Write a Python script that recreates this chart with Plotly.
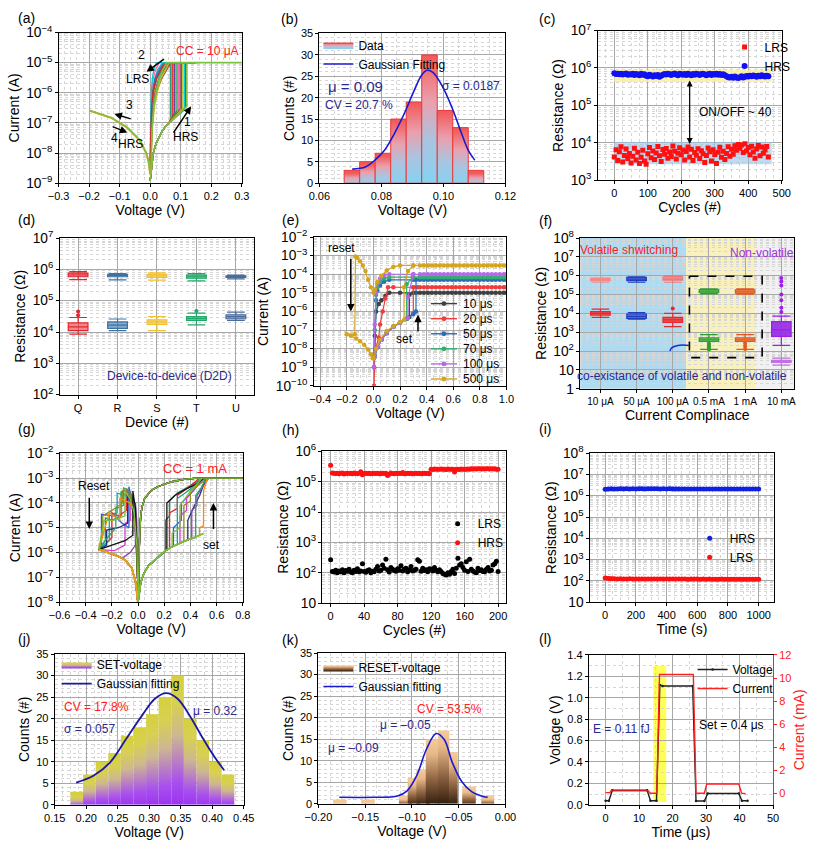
import math
import plotly.graph_objects as go

W, H = 817, 846
FONT = "Arial, 'Liberation Sans', Helvetica, sans-serif"
NAVY = '#2a2a8c'
RED = '#ff2020'

# ======================= DATA =======================
# (a) I-V cycles, CC = 10 uA
A_HRS_V = [0.0, 0.005, 0.01, 0.02, 0.03, 0.04, 0.05, 0.06]
A_HRS_I = [1.2e-9, 4e-9, 1e-8, 2.2e-8, 3.6e-8, 5.5e-8, 7.5e-8, 9.5e-8]
A_VSET = [0.066, 0.070, 0.074, 0.079, 0.084, 0.088, 0.093, 0.098, 0.103, 0.107, 0.112, 0.116]
A_IPRE = [1.3e-7, 1.7e-7, 1.5e-7, 2.1e-7, 1.8e-7, 2.6e-7, 2.2e-7, 2.9e-7, 2.5e-7, 3.1e-7, 2.7e-7, 3.4e-7]
A_VMAX = [0.14, 0.13, 0.15, 0.14, 0.13, 0.15, 0.14, 0.16, 0.14, 0.15, 0.13, 0.15]
A_CC = 1e-5
A_RET_I = [1e-5, 6e-6, 3e-6, 1.2e-6, 4e-7, 6e-8, 3e-9]
A_RET_V = [
    [0.060, 0.040, 0.022, 0.012, 0.007, 0.003, 0.001],
    [0.070, 0.048, 0.030, 0.015, 0.008, 0.004, 0.001],
    [0.050, 0.034, 0.020, 0.010, 0.006, 0.003, 0.000],
    [0.065, 0.045, 0.028, 0.018, 0.010, 0.005, 0.002],
    [0.040, 0.025, 0.015, 0.008, 0.005, 0.002, 0.000],
    [0.055, 0.042, 0.030, 0.020, 0.012, 0.006, 0.002],
    [0.030, 0.018, 0.010, 0.006, 0.004, 0.002, 0.000],
    [0.068, 0.055, 0.038, 0.022, 0.011, 0.005, 0.001],
    [0.045, 0.030, 0.016, 0.009, 0.005, 0.002, 0.001],
    [0.062, 0.050, 0.035, 0.025, 0.015, 0.006, 0.002],
    [0.020, 0.012, 0.007, 0.004, 0.002, 0.001, 0.000],
    [0.058, 0.036, 0.020, 0.010, 0.005, 0.002, 0.000],
]
A_COLORS = ['#1f9e89', '#ff7f0e', '#e31a1c', '#6a3d9a', '#17becf', '#2ca02c',
            '#ff69b4', '#8c564b', '#1f77b4', '#bcbd22', '#00ced1', '#d62728']
A_LONG_VSET, A_LONG_IPRE, A_LONG_VMAX = 0.12, 3.6e-7, 0.3
A_NEG_V = [0.0, -0.005, -0.012, -0.033, -0.075, -0.128, -0.2]
A_NEG_I = [2e-9, 5e-9, 9.5e-9, 2.6e-8, 7e-8, 1.5e-7, 2.6e-7]

# (b) set-voltage histogram
B_CENTERS = [0.0705, 0.0755, 0.0805, 0.0855, 0.0905, 0.0955, 0.1005, 0.1055, 0.1105]
B_COUNTS = [3, 5, 7, 15, 19, 30, 17, 13, 3]
B_WIDTH = 0.005
B_FIT_X = [0.0706, 0.0748, 0.0779, 0.0810, 0.0841, 0.0872, 0.0904, 0.0930, 0.0947,
           0.0966, 0.0997, 0.1028, 0.1059, 0.1080, 0.1101]
B_FIT_Y = [3.3, 3.8, 5.4, 7.7, 11.5, 16.0, 21.4, 25.3, 26.4, 25.9, 22.6, 17.6, 11.5, 7.7, 5.4]

# (c) endurance, resistance in kOhm
C_CYCLE = list(range(0, 465, 5))
C_LRS = [4.2, 6.5, 3.4, 5.8, 7.9, 3.1, 4.6, 6.9, 3.8, 5.2,
         2.9, 4.4, 7.2, 3.5, 5.6, 2.8, 4.1, 6.3, 3.3, 2.7,
         5.1, 7.5, 4.0, 6.1, 3.6, 5.4, 8.0, 4.5, 3.2, 6.6,
         5.0, 7.1, 3.9, 5.7, 4.3, 8.2, 6.0, 3.7, 5.3, 7.4,
         4.8, 6.4, 3.5, 5.9, 7.7, 4.2, 6.8, 3.4, 5.5, 4.7,
         7.0, 3.8, 6.2, 5.1, 3.0, 4.6, 7.3, 5.8, 3.3, 6.5,
         4.9, 2.8, 5.6, 7.6, 4.1, 6.0, 3.6, 5.2, 7.9, 4.4,
         6.7, 5.0, 8.4, 6.3, 9.0, 7.2, 8.8, 5.5, 9.4, 6.1,
         7.5, 4.8, 8.1, 5.7, 3.9, 6.9, 8.5, 4.5, 7.8, 5.3,
         6.4, 8.0, 4.2]
C_HRS = [720, 690, 705, 680, 700, 670, 695, 710, 660, 685,
         675, 700, 650, 690, 665, 640, 700, 655, 680, 620,
         600, 660, 630, 590, 640, 610, 650, 580, 620, 660,
         690, 670, 700, 680, 650, 690, 710, 670, 640, 700,
         680, 660, 690, 650, 700, 670, 640, 690, 660, 700,
         680, 650, 690, 700, 670, 640, 680, 700, 650, 690,
         670, 700, 660, 690, 650, 680, 640, 600, 570, 560,
         580, 550, 590, 560, 540, 570, 600, 560, 580, 610,
         590, 620, 600, 630, 610, 580, 620, 600, 640, 610,
         590, 620, 600]

# (d) device-to-device boxes
D_DEVICES = ['Q', 'R', 'S', 'T', 'U']
D_COLORS = ['#e3262d', '#3a73a8', '#f2c12e', '#20a868', '#4a6b9c']
D_FILLS = ['rgba(227,38,45,0.55)', 'rgba(58,115,168,0.6)', 'rgba(242,193,46,0.6)',
           'rgba(32,168,104,0.6)', 'rgba(74,107,156,0.6)']
D_HRS_Q1 = [5.8e5, 5.8e5, 5.5e5, 5.2e5, 5.5e5]
D_HRS_MED = [6.6e5, 6.4e5, 6.2e5, 5.8e5, 5.9e5]
D_HRS_Q3 = [7.6e5, 6.9e5, 6.9e5, 6.5e5, 6.2e5]
D_HRS_LO = [4.7e5, 4.6e5, 4.5e5, 4.3e5, 5.0e5]
D_HRS_HI = [8.5e5, 7.3e5, 7.7e5, 7.3e5, 6.6e5]
D_LRS_Q1 = [1.1e4, 1.3e4, 1.75e4, 2.35e4, 2.65e4]
D_LRS_MED = [1.45e4, 1.65e4, 2.1e4, 2.7e4, 3.1e4]
D_LRS_Q3 = [1.95e4, 2.1e4, 2.45e4, 3.1e4, 3.55e4]
D_LRS_LO = [8.5e3, 1.1e4, 1.1e4, 1.7e4, 2.35e4]
D_LRS_HI = [2.9e4, 2.6e4, 3.1e4, 4.0e4, 4.3e4]
D_OUT_X = [0, 0, 3]
D_OUT_Y = [4.5e4, 3.4e4, 4.7e4]

# (e) pulse-width I-V
E_NAMES = ['10 μs', '20 μs', '50 μs', '70 μs', '100 μs', '500 μs']
E_COLORS = ['#404040', '#f03c3c', '#2a6db5', '#2cb06c', '#b46ae6', '#d4a41c']
E_CC = [1e-5, 2e-5, 5e-5, 7e-5, 1e-4, 3e-4]
E_FWD_V = [
    [0.01, 0.03, 0.06, 0.1, 0.15, 0.2, 0.25, 0.27, 0.27, 0.32],
    [0.01, 0.03, 0.06, 0.1, 0.15, 0.2, 0.25, 0.3, 0.3, 0.33],
    [0.01, 0.03, 0.06, 0.1, 0.15, 0.2, 0.25, 0.3, 0.32, 0.32],
    [0.01, 0.03, 0.06, 0.1, 0.15, 0.2, 0.25, 0.25, 0.3],
    [0.01, 0.03, 0.06, 0.1, 0.15, 0.2, 0.26, 0.26, 0.3],
    [0.0, 0.02, 0.05, 0.1, 0.15, 0.2, 0.23, 0.23, 0.26, 0.3],
]
E_FWD_I = [
    [4e-9, 1.2e-8, 3e-8, 7e-8, 1.5e-7, 2.5e-7, 4e-7, 5e-7, 8e-6, 1e-5],
    [4e-9, 1.2e-8, 3e-8, 7e-8, 1.5e-7, 2.5e-7, 4e-7, 8e-7, 2e-5, 2e-5],
    [4e-9, 1.2e-8, 3e-8, 7e-8, 1.5e-7, 2.5e-7, 4e-7, 7e-7, 1e-6, 5e-5],
    [4e-9, 1.2e-8, 3e-8, 7e-8, 1.5e-7, 2.5e-7, 4e-7, 3e-5, 7e-5],
    [4e-9, 1.2e-8, 3e-8, 7e-8, 1.5e-7, 2.5e-7, 4.5e-7, 6e-6, 1e-4],
    [3e-9, 1e-8, 3e-8, 9e-8, 1.6e-7, 2.6e-7, 3.5e-7, 2e-5, 1.5e-4, 3e-4],
]
E_FLAT_V = [0.35, 0.38, 0.41, 0.44, 0.47, 0.50, 0.53, 0.56, 0.59, 0.62, 0.65, 0.68,
            0.71, 0.74, 0.77, 0.80, 0.83, 0.86, 0.89, 0.92, 0.95, 0.98, 1.0]
E_RET_V = [
    [0.3, 0.2, 0.12, 0.09, 0.06, 0.04, 0.02, 0.01, 0.005],
    [0.3, 0.15, 0.11, 0.09, 0.07, 0.05, 0.04, 0.02, 0.01, 0.005],
    [0.3, 0.12, 0.08, 0.05, 0.03, 0.02, 0.012, 0.006],
    [0.3, 0.12, 0.08, 0.05, 0.03, 0.02, 0.01, 0.004],
    [0.3, 0.12, 0.08, 0.05, 0.03, 0.02, 0.01, 0.003],
    [0.3, 0.2, 0.15, 0.1, 0.06, 0.03, 0.01, 0.0, -0.02, -0.04, -0.06, -0.08, -0.1, -0.12,
     -0.135, -0.14, -0.2, -0.17, -0.13, -0.1, -0.07, -0.04, -0.02, -0.005],
]
E_RET_I = [
    [1e-5, 1e-5, 1e-5, 7e-6, 4e-6, 2.5e-6, 1e-6, 5e-8, 1e-9],
    [2e-5, 2e-5, 2e-5, 5e-6, 1e-6, 2e-7, 4e-8, 1.2e-8, 4e-9, 1e-10],
    [5e-5, 5e-5, 4e-5, 2.5e-5, 1.3e-5, 4e-6, 1e-8, 5e-9],
    [7e-5, 7e-5, 6e-5, 4e-5, 2e-5, 8e-6, 1e-7, 3e-9],
    [1e-4, 1e-4, 9e-5, 6e-5, 3e-5, 1e-5, 2e-7, 1e-9],
    [3e-4, 3e-4, 2.5e-4, 1.6e-4, 8e-5, 4e-5, 1.5e-5, 1e-5, 2e-5, 5e-5, 1.5e-4, 3e-4, 5e-4,
     7.5e-4, 9e-4, 6e-8, 6e-8, 5e-8, 3.5e-8, 2.5e-8, 1.6e-8, 9e-9, 5e-9, 3e-9],
]

# (f) current-compliance boxes
F_CC = ['10 μA', '50 μA', '100 μA', '0.5 mA', '1 mA', '10 mA']
F_HRS_COL = ['#f08a8a', '#1f3fbf', '#f07a7a', '#2ca02c', '#e2581e']
F_HRS_FILL = ['rgba(250,200,200,0.9)', 'rgba(60,90,210,0.75)', 'rgba(245,150,150,0.85)',
              'rgba(90,185,90,0.8)', 'rgba(235,120,60,0.8)']
F_HRS_Q1 = [5.5e5, 5.5e5, 5.9e5, 1.25e5, 1.2e5]
F_HRS_MED = [6.2e5, 6.6e5, 6.8e5, 1.5e5, 1.5e5]
F_HRS_Q3 = [7.2e5, 8.1e5, 8.6e5, 1.85e5, 1.8e5]
F_HRS_LO = [4.5e5, 4.5e5, 4.5e5, 1.1e5, 1.05e5]
F_HRS_HI = [7.5e5, 8.6e5, 9.7e5, 2.0e5, 2.0e5]
F_LRS_COL = ['#e8262b', '#1f3fbf', '#e8262b', '#2ca02c', '#e2581e', '#9b1fe8']
F_LRS_FILL = ['rgba(240,70,70,0.85)', 'rgba(60,90,210,0.75)', 'rgba(240,60,60,0.85)',
              'rgba(90,185,90,0.8)', 'rgba(235,120,60,0.8)', 'rgba(150,40,230,0.9)']
F_LRS_Q1 = [8.2e3, 5.5e3, 3.3e3, 330, 330, 600]
F_LRS_MED = [1.0e4, 7.0e3, 4.5e3, 400, 400, 1350]
F_LRS_Q3 = [1.23e4, 9.3e3, 6.2e3, 500, 500, 3700]
F_LRS_LO = [6.2e3, 5.0e3, 2.0e3, 124, 124, 200]
F_LRS_HI = [1.7e4, 1.1e4, 1.0e4, 740, 740, 7200]
F_SMALL = dict(q1=25, med=28, q3=32, lo=18, hi=42)
F_OUT_X = [2, 3, 3, 3, 3, 4, 4, 4, 5, 5, 5, 5, 5, 5, 5]
F_OUT_Y = [1.8e4, 250, 200, 160, 120, 250, 180, 130, 1.2e4, 2e4, 5e4, 1e5, 3e5, 5e5, 7.5e5]
F_OUT_C = ['#e8262b', '#2ca02c', '#2ca02c', '#2ca02c', '#2ca02c', '#e2581e', '#e2581e',
           '#e2581e', '#9b1fe8', '#9b1fe8', '#9b1fe8', '#9b1fe8', '#9b1fe8', '#9b1fe8', '#9b1fe8']

# (g) I-V cycles, CC = 1 mA
G_HRS_V = [0.0, 0.01, 0.02, 0.04, 0.08, 0.12, 0.16, 0.2, 0.25, 0.3, 0.35, 0.4, 0.45, 0.5]
G_HRS_I = [1e-8, 3e-8, 6e-8, 1.3e-7, 3e-7, 4.5e-7, 7e-7, 1.1e-6, 1.6e-6, 2.2e-6, 2.8e-6,
           3.6e-6, 4.6e-6, 5.8e-6]
G_SET_V = [
    [0.21, 0.21, 0.24, 0.24, 0.3, 0.4, 0.5],
    [0.24, 0.24, 0.3, 0.3, 0.38, 0.47],
    [0.27, 0.27, 0.33, 0.33, 0.42, 0.5],
    [0.3, 0.3, 0.36, 0.45, 0.52],
    [0.32, 0.32, 0.37, 0.37, 0.44, 0.5],
    [0.35, 0.35, 0.4, 0.4, 0.48, 0.53],
    [0.38, 0.38, 0.42, 0.47, 0.52],
    [0.41, 0.41, 0.45, 0.45, 0.5, 0.54],
    [0.44, 0.44, 0.48, 0.52],
    [0.47, 0.47, 0.5, 0.5, 0.53],
    [0.22, 0.22, 0.28, 0.36, 0.45, 0.5],
    [0.26, 0.26, 0.32, 0.32, 0.4, 0.49],
]
G_SET_I = [
    [1.2e-6, 2e-5, 3e-5, 1.2e-4, 2.5e-4, 5e-4, 1e-3],
    [1.5e-6, 4e-5, 6e-5, 2e-4, 4e-4, 1e-3],
    [1.9e-6, 1e-5, 2e-5, 1e-4, 3e-4, 1e-3],
    [2.2e-6, 1.5e-4, 2.5e-4, 6e-4, 1e-3],
    [2.4e-6, 3e-5, 5e-5, 1.5e-4, 4e-4, 1e-3],
    [2.8e-6, 8e-5, 1.2e-4, 3e-4, 6e-4, 1e-3],
    [3.1e-6, 2e-5, 6e-5, 2e-4, 1e-3],
    [3.5e-6, 5e-5, 8e-5, 2e-4, 5e-4, 1e-3],
    [4e-6, 2e-4, 4e-4, 1e-3],
    [4.8e-6, 1e-5, 1.2e-5, 3e-4, 1e-3],
    [1.3e-6, 1e-4, 2e-4, 3.5e-4, 6e-4, 1e-3],
    [1.7e-6, 6e-6, 1e-5, 8e-5, 3e-4, 1e-3],
]
G_VMAX = 0.8
G_RET_V = [0.8, 0.45, 0.35, 0.25, 0.15, 0.1, 0.05, 0.03, 0.02, 0.012, 0.006, 0.002]
G_RET_I = [1e-3, 1e-3, 9e-4, 7e-4, 4.5e-4, 3.2e-4, 1.5e-4, 7e-5, 3e-5, 5e-6, 3e-7, 1e-8]
G_NEG_V = [
    [-0.004, -0.01, -0.03, -0.06, -0.1, -0.13, -0.13, -0.2, -0.25, -0.25, -0.3],
    [-0.004, -0.01, -0.03, -0.06, -0.09, -0.09, -0.15, -0.2, -0.2, -0.3],
    [-0.004, -0.012, -0.03, -0.05, -0.07, -0.07, -0.12, -0.18, -0.28, -0.28],
    [-0.004, -0.01, -0.03, -0.06, -0.1, -0.16, -0.16, -0.22, -0.22, -0.3],
    [-0.004, -0.01, -0.02, -0.04, -0.06, -0.06, -0.1, -0.1, -0.18, -0.3],
    [-0.004, -0.01, -0.03, -0.06, -0.09, -0.12, -0.12, -0.2, -0.27, -0.27, -0.3],
    [-0.004, -0.012, -0.025, -0.05, -0.08, -0.08, -0.15, -0.24, -0.24, -0.3],
    [-0.004, -0.01, -0.02, -0.02, -0.06, -0.12, -0.3],
    [-0.004, -0.01, -0.03, -0.05, -0.08, -0.11, -0.11, -0.17, -0.17, -0.3],
    [-0.004, -0.01, -0.03, -0.06, -0.14, -0.14, -0.22, -0.3],
    [-0.004, -0.01, -0.02, -0.04, -0.04, -0.1, -0.2, -0.3],
    [-0.004, -0.01, -0.03, -0.06, -0.1, -0.1, -0.19, -0.26, -0.3],
]
G_NEG_I = [
    [1e-7, 2e-6, 3e-5, 1.2e-4, 2.2e-4, 2.8e-4, 3e-5, 2e-5, 2.5e-5, 3e-6, 1.4e-6],
    [1e-7, 3e-6, 5e-5, 2e-4, 3.5e-4, 5e-5, 3e-5, 4e-5, 4e-6, 1.3e-6],
    [1e-7, 2e-6, 4e-5, 1.5e-4, 4.5e-4, 1e-5, 1.5e-5, 3e-5, 3.5e-5, 1.3e-6],
    [1e-7, 2e-6, 3e-5, 1.3e-4, 2e-4, 2.5e-4, 4e-5, 3e-5, 3e-6, 1.4e-6],
    [1e-7, 5e-6, 4e-5, 1.5e-4, 3e-4, 2e-5, 1.5e-5, 2e-6, 1.2e-6, 1.3e-6],
    [1e-7, 2e-6, 5e-5, 1.8e-4, 3e-4, 3.2e-4, 1e-4, 5e-5, 3e-5, 5e-6, 1.4e-6],
    [1e-7, 1.5e-6, 2e-5, 1e-4, 2e-4, 1.5e-5, 1e-5, 8e-6, 2e-6, 1.3e-6],
    [1e-7, 2e-5, 1e-4, 2e-6, 1e-6, 6e-7, 1.3e-6],
    [1e-7, 3e-6, 6e-5, 2e-4, 3.5e-4, 4e-4, 8e-5, 6e-5, 1e-5, 1.5e-6],
    [1e-7, 2e-6, 3e-5, 1e-4, 1.5e-4, 2e-5, 4e-5, 1.4e-6],
    [1e-7, 4e-6, 6e-5, 3e-4, 5e-6, 3e-6, 2e-6, 1.3e-6],
    [1e-7, 2e-6, 4e-5, 1.4e-4, 3e-4, 3e-5, 2e-5, 2e-5, 1.4e-6],
]
G_HRSN_V = [-0.3, -0.25, -0.2, -0.15, -0.1, -0.05, -0.02, -0.008, -0.002]
G_HRSN_I = [1.3e-6, 1.1e-6, 9e-7, 7e-7, 5e-7, 2.5e-7, 7e-8, 2e-8, 1e-8]
G_COLORS = ['#1f8f4f', '#e8262b', '#2d5fd0', '#18a0a0', '#d040d0', '#8c8c20',
            '#203080', '#9040b0', '#30a860', '#ff8c00', '#111111', '#7cbf3c']

# (h) endurance, CC = 1 mA
H_CYCLE = list(range(0, 201, 2))
H_LRS = [270, 110, 105, 120, 100, 115, 108, 125, 100, 118,
         112, 130, 105, 100, 122, 110, 135, 108, 115, 200,
         110, 104, 118, 126, 100, 112, 108, 130, 160, 115,
         120, 180, 140, 280, 125, 105, 150, 130, 118, 112,
         135, 120, 170, 115, 130, 140, 108, 125, 160, 115,
         120, 130, 270, 240, 112, 140, 118, 125, 108, 135,
         130, 115, 150, 120, 108, 125, 110, 95, 90, 85,
         100, 90, 110, 130, 95, 140, 300, 180, 200, 150,
         120, 230, 110, 280, 130, 115, 105, 100, 140, 118,
         125, 110, 108, 130, 150, 115, 120, 180, 200, 240,
         110]
H_HRS = [350, 195, 190, 188, 192, 185, 190, 195, 180, 188,
         192, 186, 190, 185, 194, 188, 182, 190, 215, 170,
         188, 192, 186, 190, 185, 188, 192, 186, 190, 185,
         188, 192, 186, 190, 160, 175, 195, 188, 182, 190,
         188, 192, 186, 200, 185, 188, 192, 186, 190, 185,
         188, 192, 186, 190, 185, 188, 192, 186, 190, 185,
         260, 255, 262, 258, 260, 256, 262, 258, 260, 255,
         262, 258, 260, 256, 210, 258, 260, 255, 262, 258,
         260, 256, 262, 258, 270, 265, 268, 262, 266, 270,
         264, 268, 262, 266, 270, 264, 268, 262, 266, 260,
         258]

# (i) retention
I_TIME = list(range(0, 1001, 20))
I_HRS = [2.05, 2.12, 2.15, 2.10, 2.13, 2.16, 2.12, 2.14, 2.10, 2.15,
         2.13, 2.17, 2.14, 2.12, 2.16, 2.15, 2.18, 2.14, 2.13, 2.15,
         2.12, 2.14, 2.10, 2.13, 2.12, 2.11, 2.13, 2.10, 2.12, 2.11,
         2.10, 2.12, 2.09, 2.11, 2.10, 2.12, 2.10, 2.09, 2.11, 2.10,
         2.09, 2.10, 2.08, 2.10, 2.09, 2.10, 2.08, 2.09, 2.10, 2.08,
         2.09]
I_LRS = [135, 128, 126, 125, 124, 125, 123, 124, 125, 123,
         124, 122, 123, 124, 122, 123, 122, 123, 121, 122,
         123, 122, 121, 122, 121, 122, 121, 120, 121, 122,
         121, 120, 121, 120, 121, 120, 119, 120, 121, 120,
         119, 120, 119, 120, 119, 118, 119, 120, 119, 118,
         119]

# (j) SET-voltage histogram
J_CENTERS = [0.185, 0.205, 0.225, 0.245, 0.265, 0.285, 0.305, 0.325, 0.345, 0.365, 0.385, 0.405, 0.425]
J_COUNTS = [3, 7, 10, 12, 16, 18, 21, 25, 30, 20, 15, 10, 7]
J_WIDTH = 0.02
J_FIT_X = [0.184, 0.212, 0.238, 0.263, 0.289, 0.309, 0.327, 0.345, 0.365, 0.386, 0.404, 0.419]
J_FIT_Y = [5.15, 6.8, 9.85, 15.2, 20.8, 24.6, 25.9, 24.6, 20.5, 15.2, 11.0, 8.0]

# (k) RESET-voltage histogram (two overlapping sets)
K_CENTERS = [-0.177, -0.147, -0.107, -0.0976, -0.088, -0.078, -0.066, -0.0557, -0.039, -0.019]
K_WIDTHS = [0.0145, 0.0145, 0.0138, 0.0138, 0.0145, 0.0145, 0.0121, 0.0093, 0.0145, 0.0138]
K_COUNTS = [1, 1, 2, 6, 8, 15, 17, 12, 4, 2]
K_FIT_X = [-0.1776, -0.1397, -0.1155, -0.1052, -0.0948, -0.0845, -0.0741, -0.0655,
           -0.0569, -0.0466, -0.0362, -0.0241, -0.019]
K_FIT_Y = [1.5, 1.5, 1.8, 3.0, 6.6, 12.65, 16.3, 14.9, 9.6, 5.1, 2.8, 1.7, 1.5]

# (l) pulse response
L_TV = [0, 1, 2, 12.4, 13.4, 15.2, 16.2, 17, 26, 27, 29.5, 30.5, 39.8, 40.7, 42.4]
L_V = [0.037, 0.037, 0.135, 0.135, 0.037, 0.037, 1.12, 1.11, 1.11, 0.035, 0.035, 0.105, 0.105, 0.037, 0.037]
L_TI = [0, 1.3, 1.6, 12.8, 13.3, 15.3, 16.1, 26.2, 27.0, 29.5, 30.2, 39.8, 40.6, 41.8]
L_I = [0.05, 0.05, 0.2, 0.2, 0.0, 0.0, 10.3, 10.3, 0.0, 0.0, 0.8, 0.8, 0.0, -0.05]

# ======================= LAYOUT HELPERS =======================
PANELS = ['a', 'b', 'c', 'd', 'e', 'f', 'g', 'h', 'i', 'j', 'k', 'l']
IDX = {p: i + 1 for i, p in enumerate(PANELS)}
BOX = {'a': (46, 235, 23, 177), 'b': (315, 507, 24, 177), 'c': (602, 792, 21, 174),
       'd': (47, 248, 233, 393), 'e': (309, 508, 232, 384), 'f': (584, 805, 233, 387),
       'g': (47, 236, 453, 605), 'h': (318, 508, 451, 606), 'i': (594, 784, 453, 605),
       'j': (42, 237, 658, 812), 'k': (314, 507, 657, 811), 'l': (593, 783, 659, 812)}


def xa(p):
    i = IDX[p]
    return 'x' if i == 1 else 'x%d' % i


def ya(p):
    i = IDX[p]
    return 'y' if i == 1 else 'y%d' % i


GRID = '#a8a8a8'
MINOR = dict(showgrid=True, gridcolor='#d6d6d6', griddash='dot', gridwidth=1, ticks='')


def axis(p, which, title, rng, typ='linear', dtick=None, tick0=None, fmt=None,
         minor_dtick=None, tickvals=None, ticktext=None, **kw):
    L, R, T, B = BOX[p]
    dom = [L / W, R / W] if which == 'x' else [1 - B / H, 1 - T / H]
    d = dict(domain=dom, anchor=(ya(p) if which == 'x' else xa(p)), type=typ, range=rng,
             showline=True, linecolor='black', linewidth=1, mirror=True,
             ticks='outside', ticklen=3, tickcolor='black', tickwidth=1,
             tickfont=dict(size=11, color='black', family=FONT),
             showgrid=True, gridcolor=GRID, gridwidth=1, zeroline=False,
             title=dict(text=title, font=dict(size=14, color='black', family=FONT), standoff=3))
    if typ == 'log':
        d.update(dtick=1, exponentformat='power', showexponent='all', minor=dict(MINOR, dtick='D1'))
    else:
        if dtick is not None:
            d['dtick'] = dtick
        if tick0 is not None:
            d['tick0'] = tick0
        if fmt:
            d['tickformat'] = fmt
        if minor_dtick:
            d['minor'] = dict(MINOR, dtick=minor_dtick)
    if tickvals is not None:
        d.update(tickmode='array', tickvals=tickvals, ticktext=ticktext)
    d.update(kw)
    return d


fig = go.Figure()
ANN = []
SHAPES = []


def tr(p, **kw):
    kw.setdefault('showlegend', False)
    kw.setdefault('hoverinfo', 'skip')
    fig.add_trace(go.Scatter(xaxis=xa(p), yaxis=ya(p), **kw))


def ly(v, logy):
    return math.log10(v) if logy else v


def text(p, x, y, s, color='black', size=12, logy=False, xanchor='center', yref=None):
    ANN.append(dict(xref=xa(p), yref=yref or ya(p), x=x, y=ly(y, logy), text=s, showarrow=False,
                    font=dict(size=size, color=color, family=FONT), xanchor=xanchor))


def arrow(p, x0, y0, x1, y1, logy=False, color='black', width=1.5, side='end'):
    ANN.append(dict(xref=xa(p), yref=ya(p), axref=xa(p), ayref=ya(p), x=x1, y=ly(y1, logy),
                    ax=x0, ay=ly(y0, logy), showarrow=True, arrowhead=2, arrowsize=1,
                    arrowwidth=width, arrowcolor=color, arrowside=side, text=''))


def gradient_bars(p, centers, widths, counts, cscale, outline, name, legend):
    for k in range(len(centers)):
        c, w, n = centers[k], widths[k], counts[k]
        l, r = c - w / 2, c + w / 2
        tr(p, x=[l, l, r, r, l], y=[0, n, n, 0, 0], mode='lines', fill='toself',
           fillgradient=dict(type='vertical', colorscale=cscale, start=0, stop=n),
           line=dict(color=outline or 'rgba(0,0,0,0)', width=1 if outline else 0.5),
           name=name, showlegend=(k == 0), legend=legend)


def add_box(p, pos, q1, med, q3, lo, hi, color, fill, width=0.5):
    fig.add_trace(go.Box(x=[pos], q1=[q1], median=[med], q3=[q3], lowerfence=[lo],
                         upperfence=[hi], width=width, whiskerwidth=0.9,
                         line=dict(color=color, width=1.2), fillcolor=fill, boxpoints=False,
                         showlegend=False, hoverinfo='skip', xaxis=xa(p), yaxis=ya(p)))


# ======================= (a) =======================
for k in range(len(A_VSET)):
    vs = A_VSET[k]
    vv = [v for v in A_HRS_V if v < vs]
    ii = A_HRS_I[:len(vv)]
    V = vv + [vs, vs, A_VMAX[k]] + A_RET_V[k]
    I = ii + [A_IPRE[k], A_CC, A_CC] + A_RET_I
    tr('a', x=V, y=I, mode='lines', line=dict(color=A_COLORS[k], width=1.3))
V = A_HRS_V + [A_LONG_VSET, A_LONG_VSET, A_LONG_VMAX] + A_RET_V[5]
I = A_HRS_I + [A_LONG_IPRE, A_CC, A_CC] + A_RET_I
tr('a', x=V, y=I, mode='lines', line=dict(color='#7cc242', width=1.6))
tr('a', x=A_NEG_V, y=A_NEG_I, mode='lines', line=dict(color='#f0a030', width=2.2))
tr('a', x=A_NEG_V[::-1], y=A_NEG_I[::-1], mode='lines', line=dict(color='#7cc242', width=1.6))
text('a', 0.189, -4.6, 'CC = 10 μA', color=RED, size=12)
text('a', -0.03, -4.76, '2')
text('a', -0.043, -5.55, 'LRS')
text('a', -0.068, -6.42, '3')
text('a', -0.117, -7.5, '4')
text('a', -0.064, -7.7, 'HRS')
text('a', 0.122, -6.98, '1')
text('a', 0.115, -7.48, 'HRS')
arrow('a', 0.05, -4.85, -0.012, -5.3)
arrow('a', -0.059, -6.88, -0.117, -6.7)
arrow('a', -0.128, -7.1, -0.075, -7.32)
arrow('a', 0.073, -7.37, 0.134, -6.45)

# ======================= (b) =======================
gradient_bars('b', B_CENTERS, [B_WIDTH] * len(B_CENTERS), B_COUNTS,
              [[0, '#80d4f4'], [0.35, '#aac4e0'], [0.65, '#eaa0ae'], [1, '#f25a5a']],
              '#e83a3a', 'Data', 'legend')
tr('b', x=B_FIT_X, y=B_FIT_Y, mode='lines', line=dict(color='#1a1ad0', width=1.6, shape='spline'),
   name='Gaussian Fitting', showlegend=True, legend='legend')
text('b', 0.0716, 22.6, 'μ = 0.09', color=NAVY, size=15)
text('b', 0.0727, 18.2, 'CV = 20.7 %', color=NAVY, size=12)
text('b', 0.109, 22.8, 'σ = 0.0187', color=NAVY, size=12)

# ======================= (c) =======================
tr('c', x=[0, 470, 470, 0, 0], y=[4.2e5, 4.2e5, 9e5, 9e5, 4.2e5], mode='lines', fill='toself',
   fillcolor='rgba(248,238,160,0.85)', line=dict(width=0))
tr('c', x=[0, 470, 470, 0, 0], y=[2.7e3, 2.7e3, 1.05e4, 1.05e4, 2.7e3], mode='lines', fill='toself',
   fillcolor='rgba(150,195,230,0.6)', line=dict(width=0))
tr('c', x=C_CYCLE, y=[v * 1e3 for v in C_LRS], mode='markers', name='LRS', showlegend=True,
   legend='legend2', marker=dict(symbol='square', size=5, color='#ff1010'))
tr('c', x=C_CYCLE, y=[v * 1e3 for v in C_HRS], mode='markers', name='HRS', showlegend=True,
   legend='legend2', marker=dict(symbol='circle', size=6, color='#1010f0'))
arrow('c', 225, 8.5e3, 225, 4.6e5, logy=True, side='end+start', width=1.2)
text('c', 362, 4.82, 'ON/OFF ~ 40', size=12)

# ======================= (d) =======================
for k in range(len(D_DEVICES)):
    add_box('d', k, D_HRS_Q1[k], D_HRS_MED[k], D_HRS_Q3[k], D_HRS_LO[k], D_HRS_HI[k], D_COLORS[k], D_FILLS[k])
    add_box('d', k, D_LRS_Q1[k], D_LRS_MED[k], D_LRS_Q3[k], D_LRS_LO[k], D_LRS_HI[k], D_COLORS[k], D_FILLS[k])
tr('d', x=D_OUT_X, y=D_OUT_Y, mode='markers',
   marker=dict(size=4, color=[D_COLORS[k] for k in D_OUT_X]))
text('d', 2.31, 2.6, 'Device-to-device (D2D)', color=NAVY, size=12)

# ======================= (e) =======================
for k in range(len(E_NAMES)):
    V = E_FWD_V[k] + E_FLAT_V + E_RET_V[k]
    I = E_FWD_I[k] + [E_CC[k]] * len(E_FLAT_V) + E_RET_I[k]
    tr('e', x=V, y=I, mode='lines+markers', line=dict(color=E_COLORS[k], width=1.2),
       marker=dict(size=4.5, color=E_COLORS[k]), name=E_NAMES[k])
# compact legend drawn in page pixels (15 px per row, as in the reference)
for k in range(len(E_NAMES)):
    yk = 1 - (300 + 15.4 * k) / H
    SHAPES.append(dict(type='line', xref='paper', yref='paper', x0=430 / W, x1=457 / W, y0=yk, y1=yk,
                       line=dict(color=E_COLORS[k], width=1.4)))
    SHAPES.append(dict(type='circle', xref='paper', yref='paper', x0=441 / W, x1=446 / W,
                       y0=yk - 2.5 / H, y1=yk + 2.5 / H, fillcolor=E_COLORS[k],
                       line=dict(color=E_COLORS[k], width=0)))
    ANN.append(dict(xref='paper', yref='paper', x=461 / W, y=yk, text=E_NAMES[k], showarrow=False,
                    xanchor='left', yanchor='middle', font=dict(size=12, color='black', family=FONT)))
text('e', -0.24, -2.58, 'reset', size=12)
text('e', 0.237, -7.47, 'set', size=12)
arrow('e', -0.17, -3.1, -0.17, -6.0)
arrow('e', 0.335, -7.15, 0.335, -6.18)

# ======================= (f) =======================
SHAPES.append(dict(type='rect', xref=xa('f'), yref=ya('f') + ' domain', x0=-0.56, x1=2.37, y0=0, y1=1,
                   fillcolor='#b0daf0', line=dict(width=0), layer='below'))
SHAPES.append(dict(type='rect', xref=xa('f'), yref=ya('f') + ' domain', x0=2.37, x1=4.29, y0=0, y1=1,
                   fillcolor='#f8f1bd', line=dict(width=0), layer='below'))
SHAPES.append(dict(type='rect', xref=xa('f'), yref=ya('f') + ' domain', x0=4.29, x1=5.36, y0=0, y1=1,
                   fillcolor='#f1f1f1', line=dict(width=0), layer='below'))
for k in range(len(F_HRS_Q1)):
    add_box('f', k, F_HRS_Q1[k], F_HRS_MED[k], F_HRS_Q3[k], F_HRS_LO[k], F_HRS_HI[k], F_HRS_COL[k],
            F_HRS_FILL[k], width=0.54)
for k in range(len(F_LRS_Q1)):
    add_box('f', k, F_LRS_Q1[k], F_LRS_MED[k], F_LRS_Q3[k], F_LRS_LO[k], F_LRS_HI[k], F_LRS_COL[k],
            F_LRS_FILL[k], width=0.54)
add_box('f', 5, F_SMALL['q1'], F_SMALL['med'], F_SMALL['q3'], F_SMALL['lo'], F_SMALL['hi'], '#c070e0',
        'rgba(200,120,230,0.8)', width=0.54)
tr('f', x=F_OUT_X, y=F_OUT_Y, mode='markers', marker=dict(size=4, color=F_OUT_C))
tr('f', x=[2.46, 4.47, 4.47, 2.46, 2.46], y=[9.3e5, 9.3e5, 45, 45, 9.3e5], mode='lines',
   line=dict(color='black', width=1.6, dash='dash'))
tr('f', x=[2.46, 2.14, 1.97, 1.92], y=[200, 200, 148, 100], mode='lines',
   line=dict(color='#1030e0', width=1.5, shape='spline'))
arrow('f', 1.92, 100, 1.92, 68, logy=True, color='#1030e0', width=1.5)
text('f', 0.79, 7.34, 'Volatile shwitching', color=RED, size=12)
text('f', 4.47, 7.22, 'Non-volatile', color='#a030e0', size=12)
text('f', 2.25, 0.7, 'co-existance of volatile and non-volatile', color=NAVY, size=12)

# ======================= (g) =======================
for k in range(len(G_SET_V)):
    vs = G_SET_V[k][0]
    vv = [v for v in G_HRS_V if v < vs]
    ii = G_HRS_I[:len(vv)]
    nv = G_NEG_V[k]
    hv = [v for v in G_HRSN_V if v > nv[-1]]
    hi = G_HRSN_I[len(G_HRSN_V) - len(hv):]
    V = vv + G_SET_V[k] + [G_VMAX] + G_RET_V + nv + hv
    I = ii + G_SET_I[k] + [1e-3] + G_RET_I + G_NEG_I[k] + hi
    tr('g', x=V, y=I, mode='lines', line=dict(color=G_COLORS[k], width=1.3))
tr('g', x=G_HRSN_V, y=G_HRSN_I, mode='lines', line=dict(color='#e8a020', width=2.2))
tr('g', x=G_HRS_V, y=G_HRS_I, mode='lines', line=dict(color='#7cbf3c', width=1.8))
text('g', 0.436, -2.62, 'CC = 1 mA', color=RED, size=13)
text('g', -0.34, -3.31, 'Reset', size=12)
text('g', 0.563, -5.7, 'set', size=12)
arrow('g', -0.373, -3.73, -0.373, -5.05)
arrow('g', 0.576, -5.11, 0.576, -4.0)

# ======================= (h) =======================
tr('h', x=H_CYCLE, y=H_LRS, mode='markers', name='LRS', showlegend=True, legend='legend4',
   marker=dict(size=5, color='black'))
tr('h', x=H_CYCLE, y=[v * 1e3 for v in H_HRS], mode='markers', name='HRS', showlegend=True,
   legend='legend4', marker=dict(size=5, color='#ff1010'))

# ======================= (i) =======================
tr('i', x=I_TIME, y=[v * 1e6 for v in I_HRS], mode='lines', line=dict(color='#1020e0', width=4))
tr('i', x=I_TIME, y=I_LRS, mode='lines', line=dict(color='#ff1010', width=4))
tr('i', x=I_TIME, y=[v * 1e6 for v in I_HRS], mode='markers', name='HRS', showlegend=True,
   legend='legend5', marker=dict(size=5, color='#1020e0'))
tr('i', x=I_TIME, y=I_LRS, mode='markers', name='LRS', showlegend=True, legend='legend5',
   marker=dict(size=5, color='#ff1010'))

# ======================= (j) =======================
gradient_bars('j', J_CENTERS, [J_WIDTH] * len(J_CENTERS), J_COUNTS,
              [[0, '#9a30f0'], [0.2, '#a850ee'], [0.55, '#cdb890'], [0.8, '#d8d050'], [1, '#d6d040']],
              None, 'SET-voltage', 'legend6')
tr('j', x=J_FIT_X, y=J_FIT_Y, mode='lines', line=dict(color='#1a1aa0', width=1.8, shape='spline'),
   name='Gaussian fitting', showlegend=True, legend='legend6')
text('j', 0.217, 22.6, 'CV = 17.8%', color=RED, size=12)
text('j', 0.205, 17.7, 'σ = 0.057', color=NAVY, size=12)
text('j', 0.404, 21.7, 'μ = 0.32', color=NAVY, size=12)

# ======================= (k) =======================
gradient_bars('k', K_CENTERS, K_WIDTHS, K_COUNTS,
              [[0, '#2a1808'], [0.4, '#8a6040'], [0.8, '#e8b888'], [1, '#f4c898']],
              None, 'RESET-voltage', 'legend7')
tr('k', x=K_FIT_X, y=K_FIT_Y, mode='lines', line=dict(color='#1a1ad0', width=1.6, shape='spline'),
   name='Gaussian fitting', showlegend=True, legend='legend7')
text('k', -0.0603, 22.0, 'CV = 53.5%', color=RED, size=12)
text('k', -0.107, 18.2, 'μ = –0.05', color=NAVY, size=12)
text('k', -0.162, 13.0, 'μ = –0.09', color=NAVY, size=12)

# ======================= (l) =======================
SHAPES.append(dict(type='rect', xref=xa('l'), yref=ya('l'), x0=14.2, x1=18.1, y0=0.025, y1=1.3,
                   fillcolor='rgba(255,255,60,0.85)', line=dict(width=0), layer='below'))
tr('l', x=L_TV, y=L_V, mode='lines+markers', name='Voltage', showlegend=True, legend='legend8',
   line=dict(color='#202020', width=1.4), marker=dict(size=2.5, color='#202020'))
fig.add_trace(go.Scatter(x=L_TI, y=L_I, xaxis=xa('l'), yaxis='y13', mode='lines', name='Current',
                         legend='legend8', line=dict(color='#ff2020', width=1.4), hoverinfo='skip'))
text('l', 4.7, 0.71, 'E = 0.11 fJ', color=NAVY, size=12)
text('l', 37.5, 0.743, 'Set = 0.4 μs', size=12)

# ======================= AXES =======================
lay = {}


def put(p, xd, yd):
    i = IDX[p]
    lay['xaxis' if i == 1 else 'xaxis%d' % i] = xd
    lay['yaxis' if i == 1 else 'yaxis%d' % i] = yd


put('a', axis('a', 'x', 'Voltage (V)', [-0.3, 0.3], dtick=0.1, fmt='.1f', minor_dtick=0.02),
    axis('a', 'y', 'Current (A)', [-9, -4], typ='log'))
put('b', axis('b', 'x', 'Voltage (V)', [0.06, 0.12], dtick=0.02, fmt='.2f', minor_dtick=0.005),
    axis('b', 'y', 'Counts (#)', [0, 35], dtick=5, minor_dtick=1))
put('c', axis('c', 'x', 'Cycles (#)', [-50, 500], dtick=100, tick0=0, minor_dtick=25),
    axis('c', 'y', 'Resistance (Ω)', [3, 7], typ='log'))
put('d', axis('d', 'x', 'Device (#)', [-0.47, 4.47], tickvals=list(range(len(D_DEVICES))),
              ticktext=D_DEVICES),
    axis('d', 'y', 'Resistance (Ω)', [2, 7], typ='log'))
put('e', axis('e', 'x', 'Voltage (V)', [-0.45, 1.0], dtick=0.2, tick0=0, fmt='.1f', minor_dtick=0.05),
    axis('e', 'y', 'Current (A)', [-10, -2], typ='log'))
put('f', axis('f', 'x', 'Current Complinace', [-0.56, 5.36], tickvals=list(range(len(F_CC))),
              ticktext=F_CC, tickangle=0, tickfont=dict(size=10, color='black', family=FONT)),
    axis('f', 'y', 'Resistance (Ω)', [0, 8], typ='log'))
put('g', axis('g', 'x', 'Voltage (V)', [-0.6, 0.8], dtick=0.2, tick0=0, fmt='.1f', minor_dtick=0.05),
    axis('g', 'y', 'Current (A)', [-8, -2], typ='log'))
put('h', axis('h', 'x', 'Cycles (#)', [-10, 210], dtick=40, tick0=0, minor_dtick=10),
    axis('h', 'y', 'Resistance (Ω)', [1, 6], typ='log'))
put('i', axis('i', 'x', 'Time (s)', [-100, 1100], dtick=200, tick0=0, minor_dtick=50),
    axis('i', 'y', 'Resistance (Ω)', [1, 8], typ='log'))
put('j', axis('j', 'x', 'Voltage (V)', [0.15, 0.45], dtick=0.05, fmt='.2f', minor_dtick=0.0125),
    axis('j', 'y', 'Counts (#)', [0, 35], dtick=5, minor_dtick=1))
put('k', axis('k', 'x', 'Voltage (V)', [-0.2, 0.0], dtick=0.05, fmt='.2f', minor_dtick=0.0125),
    axis('k', 'y', 'Counts (#)', [0, 35], dtick=5, minor_dtick=1))
put('l', axis('l', 'x', 'Time (μs)', [-5, 50], dtick=10, tick0=0, minor_dtick=5),
    axis('l', 'y', 'Voltage (V)', [0, 1.4], dtick=0.2, fmt='.1f', minor_dtick=0.1, mirror=False))
lay['yaxis13'] = dict(overlaying=ya('l'), side='right', anchor=xa('l'), range=[-1, 12], dtick=2, tick0=0,
                      showline=True, linecolor='#ff2020', linewidth=1, ticks='outside', ticklen=3,
                      tickcolor='#ff2020', showgrid=False, zeroline=False,
                      tickfont=dict(size=11, color='#ff2020', family=FONT),
                      title=dict(text='Current (mA)', font=dict(size=14, color='#ff2020', family=FONT),
                                 standoff=3))


# ======================= LEGENDS =======================
def leg(xpx, ypx):
    return dict(x=xpx / W, y=1 - ypx / H, xanchor='left', yanchor='top', bgcolor='rgba(0,0,0,0)',
                borderwidth=0, font=dict(size=12, color='black', family=FONT), tracegroupgap=0,
                itemwidth=30)


lay['legend'] = leg(314, 21)
lay['legend2'] = leg(733, 23)
lay['legend4'] = leg(437, 510)
lay['legend5'] = leg(697, 525)
lay['legend6'] = leg(44, 654)
lay['legend7'] = leg(314, 657)
lay['legend8'] = leg(700, 659)

# ======================= PANEL LABELS =======================
LABELS = [('(a)', 2, 8), ('(b)', 273, 9), ('(c)', 540, 9), ('(d)', 2, 215), ('(e)', 274, 215),
          ('(f)', 540, 216), ('(g)', 2, 428), ('(h)', 274, 429), ('(i)', 540, 428),
          ('(j)', 2, 643), ('(k)', 274, 644), ('(l)', 540, 643)]
for s, x, y in LABELS:
    ANN.append(dict(xref='paper', yref='paper', x=x / W, y=1 - y / H, text=s, showarrow=False,
                    xanchor='left', yanchor='middle', font=dict(size=14, color='black', family=FONT)))

fig.update_layout(width=W, height=H, margin=dict(l=0, r=0, t=0, b=0), plot_bgcolor='white',
                  paper_bgcolor='white', font=dict(family=FONT, color='black'), boxmode='overlay',
                  annotations=ANN, shapes=SHAPES, showlegend=True, **lay)
fig.write_html("out.html")
